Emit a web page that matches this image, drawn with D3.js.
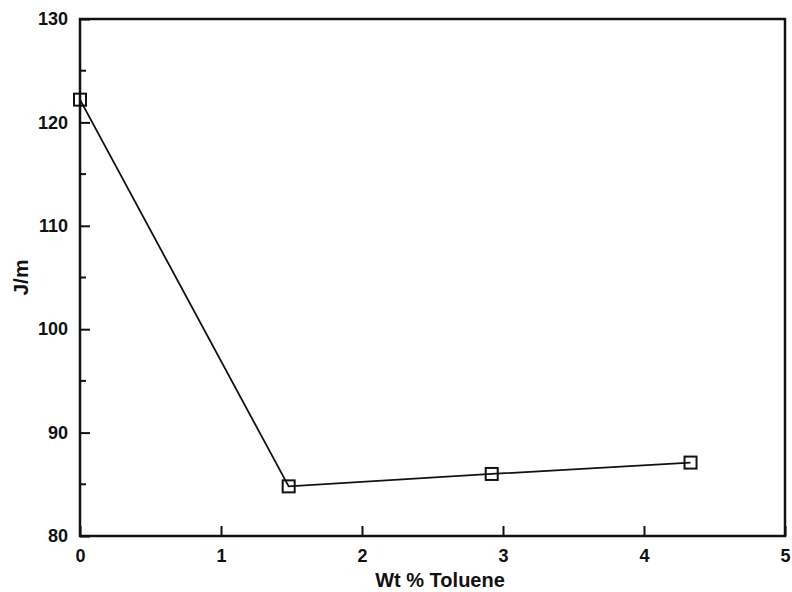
<!DOCTYPE html>
<html>
<head>
<meta charset="utf-8">
<script src="https://cdn.jsdelivr.net/npm/d3@7"></script>
<style>
  body { margin: 0; background: #fff; }
  text { font-family: "Liberation Sans", Arial, sans-serif; fill: #111; }
</style>
</head>
<body>
<svg width="792" height="592"></svg>
<script>
var width = 792;
var height = 592;
var margin = {left: 80, top: 19, right: 7, bottom: 56};

// data
var toluene = [0, 1.48, 2.92, 4.33];
var energy = [122.2, 84.8, 86.0, 87.1];
var xTicks = [0, 1, 2, 3, 4, 5];
var yTicks = [80, 90, 100, 110, 120, 130];
var yMinor = [85, 95, 105, 115, 125];

var points = toluene.map(function (t, i) { return {x: t, y: energy[i]}; });

var xScale = d3.scaleLinear().domain([0, 5]).range([margin.left, width - margin.right]);
var yScale = d3.scaleLinear().domain([80, 130]).range([height - margin.bottom, margin.top]);

var svg = d3.select('svg');

// frame
svg.append('rect')
  .attr('x', margin.left)
  .attr('y', margin.top)
  .attr('width', width - margin.left - margin.right)
  .attr('height', height - margin.top - margin.bottom)
  .attr('fill', 'none')
  .attr('stroke', '#111')
  .attr('stroke-width', 2.5);

// bottom axis, ticks pointing in
var axisBottom = d3.axisBottom(xScale).tickValues(xTicks).tickSize(-10).tickPadding(13).tickFormat(d3.format('d'));
var gx = svg.append('g')
  .attr('transform', 'translate(0,' + (height - margin.bottom) + ')')
  .call(axisBottom);
gx.select('.domain').remove();
gx.selectAll('line').attr('stroke', '#111').attr('stroke-width', 2);
gx.selectAll('text').style('font-size', '18px').style('font-weight', 'bold')
  .attr('font-family', '"Liberation Sans", Arial, sans-serif').attr('fill', '#111');

// left axis, ticks pointing in
var axisLeft = d3.axisLeft(yScale).tickValues(yTicks).tickSize(-10).tickPadding(12);
var gy = svg.append('g')
  .attr('transform', 'translate(' + margin.left + ',0)')
  .call(axisLeft);
gy.select('.domain').remove();
gy.selectAll('line').attr('stroke', '#111').attr('stroke-width', 2);
gy.selectAll('text').style('font-size', '18px').style('font-weight', 'bold')
  .attr('font-family', '"Liberation Sans", Arial, sans-serif').attr('fill', '#111');

// minor ticks on y
svg.selectAll('.minor')
  .data(yMinor)
  .enter()
  .append('line')
  .attr('x1', margin.left)
  .attr('x2', margin.left + 6)
  .attr('y1', function (d) { return yScale(d); })
  .attr('y2', function (d) { return yScale(d); })
  .attr('stroke', '#111')
  .attr('stroke-width', 2);

// the line
var line = d3.line()
  .x(function (d) { return xScale(d.x); })
  .y(function (d) { return yScale(d.y); });

svg.append('path')
  .datum(points)
  .attr('d', line)
  .attr('fill', 'none')
  .attr('stroke', '#111')
  .attr('stroke-width', 1.8);

// square markers
var s = 12;
svg.selectAll('.pt')
  .data(points)
  .enter()
  .append('rect')
  .attr('x', function (d) { return xScale(d.x) - s / 2; })
  .attr('y', function (d) { return yScale(d.y) - s / 2; })
  .attr('width', s)
  .attr('height', s)
  .attr('fill', 'none')
  .attr('stroke', '#111')
  .attr('stroke-width', 2);

// axis titles
svg.append('text')
  .attr('x', 440)
  .attr('y', 587)
  .style('text-anchor', 'middle')
  .style('font-size', '20px')
  .style('font-weight', 'bold')
  .text('Wt % Toluene');

svg.append('text')
  .attr('transform', 'rotate(-90)')
  .attr('x', -(height - margin.bottom + margin.top) / 2)
  .attr('y', 28)
  .style('text-anchor', 'middle')
  .style('font-size', '21px')
  .style('font-weight', 'bold')
  .text('J/m');
</script>
</body>
</html>
